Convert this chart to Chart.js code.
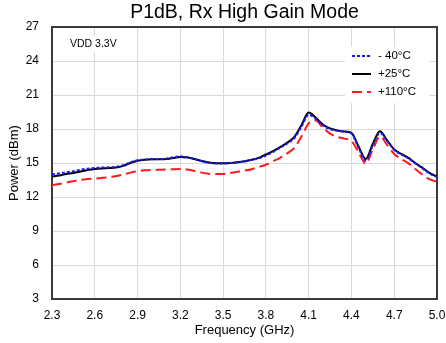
<!DOCTYPE html>
<html>
<head>
<meta charset="utf-8">
<script src="https://cdn.jsdelivr.net/npm/chart.js@4.4.1/dist/chart.umd.min.js"></script>
<style>
  html, body { margin: 0; padding: 0; background: #ffffff; }
  #wrap { width: 446px; height: 343px; position: relative; }
</style>
</head>
<body>
<div id="wrap"><canvas id="c" width="446" height="343"></canvas></div>
<script>
// ---- data ----
const freqGHz = [2.30,2.35,2.40,2.45,2.50,2.55,2.60,2.65,2.70,2.75,2.80,2.85,2.90,2.95,3.00,3.05,3.10,3.15,3.20,3.25,3.30,3.35,3.40,3.45,3.50,3.55,3.60,3.65,3.70,3.75,3.80,3.85,3.90,3.95,4.00,4.05,4.10,4.15,4.20,4.25,4.30,4.35,4.40,4.45,4.50,4.55,4.60,4.65,4.70,4.75,4.80,4.85,4.90,4.95,5.00];

const pMinus40 = [14.00,14.08,14.18,14.28,14.40,14.50,14.56,14.60,14.62,14.66,14.80,15.05,15.25,15.30,15.33,15.35,15.38,15.50,15.58,15.52,15.35,15.15,15.02,14.96,14.96,14.99,15.05,15.14,15.26,15.42,15.65,15.97,16.35,16.72,17.20,18.20,19.25,18.90,18.30,17.98,17.85,17.75,17.60,16.35,15.20,16.55,17.65,16.95,16.15,15.75,15.40,14.95,14.50,14.05,13.75];

const pPlus25 = [13.80,13.90,14.02,14.12,14.25,14.38,14.47,14.52,14.55,14.60,14.75,15.00,15.20,15.28,15.32,15.33,15.35,15.45,15.52,15.48,15.35,15.18,15.05,14.98,14.97,15.00,15.06,15.15,15.28,15.45,15.75,16.05,16.40,16.80,17.30,18.35,19.45,19.00,18.40,18.05,17.88,17.78,17.65,16.45,15.35,16.70,17.80,17.00,16.20,15.80,15.45,14.98,14.55,14.10,13.80];

const pPlus110 = [13.05,13.15,13.28,13.40,13.52,13.58,13.62,13.68,13.75,13.85,14.00,14.15,14.28,14.35,14.38,14.40,14.42,14.45,14.47,14.42,14.30,14.15,14.05,14.02,14.03,14.12,14.22,14.32,14.45,14.65,14.85,15.15,15.45,15.85,16.35,17.35,18.50,18.75,18.10,17.60,17.30,17.15,16.95,15.95,14.95,16.20,17.35,16.60,15.80,15.35,14.97,14.45,13.95,13.55,13.35];

const seriesLabels = ['- 40°C', '+25°C', '+110°C'];
const xTicks = [2.3, 2.6, 2.9, 3.2, 3.5, 3.8, 4.1, 4.4, 4.7, 5.0];
const yTicks = [3, 6, 9, 12, 15, 18, 21, 24, 27];
const chartTitle = 'P1dB, Rx High Gain Mode';
const xTitle = 'Frequency (GHz)';
const yTitle = 'Power (dBm)';
const noteText = 'VDD 3.3V';

const FONT = "'Liberation Sans', Arial, sans-serif";
const toXY = ys => freqGHz.map((f, i) => ({ x: f, y: ys[i] }));

const styles = [
  { color: '#1a1aff', dash: [3, 2], width: 2 },
  { color: '#000000', dash: [], width: 2 },
  { color: '#ff1a1a', dash: [10, 5], width: 2 }
];
const seriesData = [pMinus40, pPlus25, pPlus110];

const datasets = seriesData.map((d, i) => ({
  label: seriesLabels[i],
  data: toXY(d),
  borderColor: styles[i].color,
  borderDash: styles[i].dash,
  borderWidth: styles[i].width,
  pointRadius: 0,
  fill: false,
  cubicInterpolationMode: 'monotone'
}));

const decorPlugin = {
  id: 'decor',
  beforeDatasetsDraw(chart) {
    const { ctx, chartArea: a } = chart;
    ctx.save();
    // plot frame
    ctx.strokeStyle = '#3a3a3a';
    ctx.lineWidth = 2;
    ctx.strokeRect(a.left, a.top, a.right - a.left, a.bottom - a.top);
    // note box
    ctx.font = '10.5px ' + FONT;
    const w = ctx.measureText(noteText).width;
    ctx.fillStyle = '#ffffff';
    ctx.fillRect(a.left + 14, a.top + 9, w + 8, 16);
    ctx.fillStyle = '#000000';
    ctx.textBaseline = 'middle';
    ctx.textAlign = 'left';
    ctx.fillText(noteText, a.left + 18, a.top + 17);
    // legend box
    ctx.fillStyle = '#ffffff';
    ctx.fillRect(a.right - 92, a.top + 20, 84, 56);
    ctx.restore();
  },
  afterDraw(chart) {
    const { ctx, chartArea: a } = chart;
    ctx.save();
    // title
    ctx.font = '19.5px ' + FONT;
    ctx.fillStyle = '#000000';
    ctx.textAlign = 'center';
    ctx.textBaseline = 'middle';
    ctx.fillText(chartTitle, (a.left + a.right) / 2, 13);
    // legend
    ctx.font = '11.5px ' + FONT;
    ctx.textAlign = 'left';
    const rowsY = [a.top + 29, a.top + 47, a.top + 65];
    chart.data.datasets.forEach((ds, i) => {
      const y = rowsY[i];
      ctx.strokeStyle = ds.borderColor;
      ctx.lineWidth = ds.borderWidth;
      ctx.setLineDash(ds.borderDash);
      ctx.beginPath();
      ctx.moveTo(a.right - 85, y);
      ctx.lineTo(a.right - 66, y);
      ctx.stroke();
      ctx.setLineDash([]);
      ctx.fillStyle = '#000000';
      ctx.fillText(ds.label, a.right - 59, y);
    });
    ctx.restore();
  }
};

new Chart(document.getElementById('c'), {
  type: 'line',
  data: { datasets },
  plugins: [decorPlugin],
  options: {
    responsive: false,
    animation: false,
    devicePixelRatio: 1,
    layout: { padding: { top: 27, right: 9, left: 0, bottom: 0 } },
    plugins: { legend: { display: false }, tooltip: { enabled: false }, title: { display: false } },
    scales: {
      x: {
        type: 'linear',
        min: 2.3, max: 5.0,
        afterBuildTicks: s => { s.ticks = xTicks.map(v => ({ value: v })); },
        afterFit: s => { s.height = 44; s.paddingLeft = 0; s.paddingRight = 0; },
        grid: { color: '#d9d9d9', lineWidth: 1, drawTicks: false },
        border: { display: false },
        ticks: { color: '#000', font: { family: FONT, size: 12 }, padding: 9, maxRotation: 0, callback: v => Number(v).toFixed(1) },
        title: { display: true, text: xTitle, color: '#000', font: { family: FONT, size: 13 }, padding: { top: 0, bottom: 5 } }
      },
      y: {
        min: 3, max: 27,
        afterBuildTicks: s => { s.ticks = yTicks.map(v => ({ value: v })); },
        afterFit: s => { s.width = 52; s.paddingTop = 0; s.paddingBottom = 0; },
        grid: { color: '#d9d9d9', lineWidth: 1, drawTicks: false },
        border: { display: false },
        ticks: { color: '#000', font: { family: FONT, size: 12 }, padding: 13 },
        title: { display: true, text: yTitle, color: '#000', font: { family: FONT, size: 13 }, padding: { top: 7, bottom: 0 } }
      }
    }
  }
});
</script>
</body>
</html>
